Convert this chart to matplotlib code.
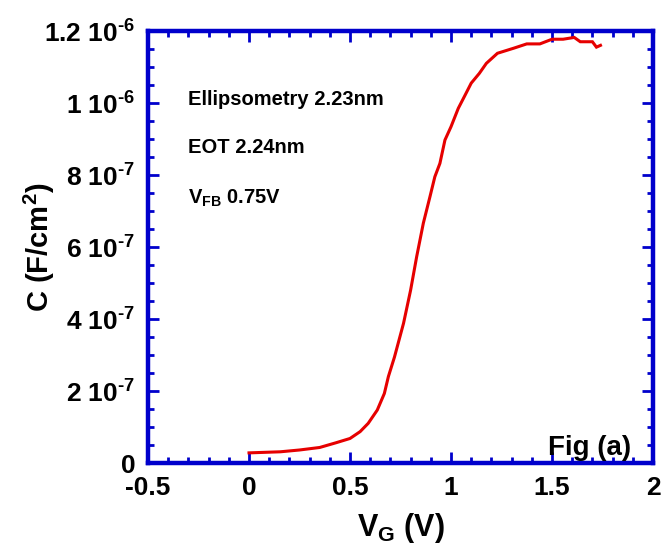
import matplotlib
matplotlib.use("Agg")
import matplotlib.pyplot as plt
from matplotlib.ticker import MultipleLocator, FixedLocator, FixedFormatter

# Data
vg = [0.0, 0.155, 0.25, 0.35, 0.43, 0.5, 0.55, 0.59, 0.635, 0.67, 0.69, 0.72,
      0.765, 0.80, 0.83, 0.863, 0.896, 0.92, 0.945, 0.97, 1.0, 1.036, 1.07,
      1.10, 1.14, 1.175, 1.23, 1.31, 1.375, 1.44, 1.50, 1.555, 1.61, 1.64,
      1.70, 1.72, 1.74]
c_e7 = [0.29, 0.32, 0.37, 0.44, 0.57, 0.69, 0.88, 1.11, 1.48, 1.94, 2.41, 2.95,
        3.89, 4.81, 5.74, 6.67, 7.41, 7.96, 8.33, 8.98, 9.35, 9.86, 10.23,
        10.56, 10.83, 11.11, 11.39, 11.53, 11.65, 11.65, 11.78, 11.78, 11.83,
        11.71, 11.71, 11.56, 11.61]
cap = [v * 1e-7 for v in c_e7]

xticks = [-0.5, 0, 0.5, 1, 1.5, 2]
xticklabels = ["-0.5", "0", "0.5", "1", "1.5", "2"]
yticks = [0, 2e-7, 4e-7, 6e-7, 8e-7, 1e-6, 1.2e-6]
yticklabels = ["0", r"2 10$^{\text{-}7}$", r"4 10$^{\text{-}7}$",
               r"6 10$^{\text{-}7}$", r"8 10$^{\text{-}7}$",
               r"1 10$^{\text{-}6}$", r"1.2 10$^{\text{-}6}$"]
annotations = ["Ellipsometry 2.23nm", "EOT 2.24nm", r"V$_{FB}$ 0.75V"]
fig_label = "Fig (a)"

plt.rcParams["font.family"] = ["Liberation Sans", "DejaVu Sans"]
plt.rcParams["font.weight"] = "bold"
plt.rcParams["mathtext.fontset"] = "custom"
plt.rcParams["mathtext.rm"] = "Liberation Sans:bold"
plt.rcParams["mathtext.it"] = "Liberation Sans:bold"
plt.rcParams["mathtext.bf"] = "Liberation Sans:bold"
plt.rcParams["mathtext.default"] = "rm"

blue = "#0000CC"
red = "#E60000"

fig = plt.figure(figsize=(6.62, 5.57), dpi=100)
ax = fig.add_axes([0.2236, 0.1682, 0.7628, 0.7756])

ax.plot(vg, cap, color=red, lw=2.2, solid_joinstyle="miter")

ax.set_xlim(-0.5, 2)
ax.set_ylim(0, 1.2e-6)
ax.xaxis.set_major_locator(FixedLocator(xticks))
ax.xaxis.set_major_formatter(FixedFormatter(xticklabels))
ax.xaxis.set_minor_locator(MultipleLocator(0.1))
ax.yaxis.set_major_locator(FixedLocator(yticks))
ax.yaxis.set_major_formatter(FixedFormatter(yticklabels))
ax.yaxis.set_minor_locator(MultipleLocator(0.5e-7))

for s in ax.spines.values():
    s.set_color(blue)
    s.set_linewidth(3.2)

ax.tick_params(which="both", direction="in", top=True, right=True,
               color=blue, width=2)
ax.tick_params(which="major", length=8, labelsize=19, pad=9)
ax.tick_params(which="minor", length=4.5)
for lab in ax.get_xticklabels() + ax.get_yticklabels():
    lab.set_fontweight("bold")

ax.set_xlabel(r"V$_G$ (V)", fontsize=22, fontweight="bold", labelpad=8)
ax.set_ylabel(r"C (F/cm$^2$)", fontsize=21, fontweight="bold")
ax.yaxis.set_label_coords(-0.18, 0.5)

ys = [0.829, 0.7176, 0.602]
for t, y in zip(annotations, ys):
    ax.text(0.079, y, t, transform=ax.transAxes, fontsize=14.5,
            fontweight="bold", va="baseline", ha="left")
ax.text(0.792, 0.019, fig_label, transform=ax.transAxes, fontsize=20,
        fontweight="bold", va="baseline", ha="left")

fig.savefig("out.png", dpi=100)
